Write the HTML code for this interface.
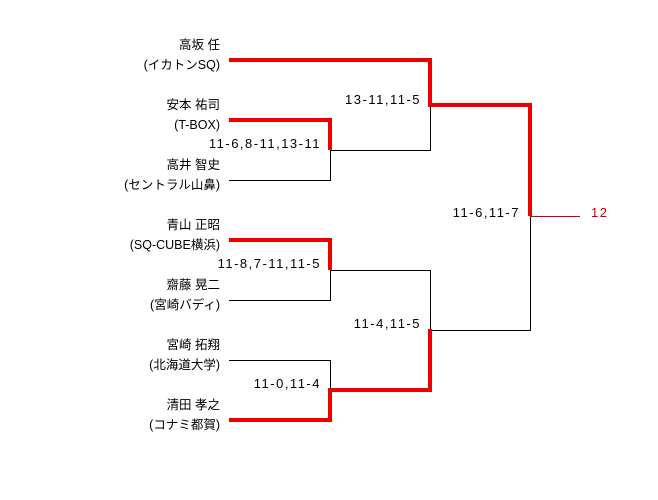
<!DOCTYPE html>
<html><head><meta charset="utf-8"><style>
body{margin:0;background:#fff}
svg{display:block}
text{font-family:"Liberation Sans","Noto Sans CJK JP",sans-serif;font-size:12.5px;fill:#000}
.s{font-size:13px;letter-spacing:1.5px}
</style></head><body>
<svg width="658" height="500" xmlns="http://www.w3.org/2000/svg">
<g stroke="#000" stroke-width="1" fill="none">
<polyline points="229,180.5 330.5,180.5 330.5,150"/>
<polyline points="330,150.5 430.5,150.5 430.5,105"/>
<polyline points="229,300.5 330.5,300.5 330.5,270"/>
<polyline points="330,270.5 430.5,270.5 430.5,330"/>
<polyline points="229,360.5 330.5,360.5 330.5,390"/>
<polyline points="430,330.5 530.5,330.5 530.5,216"/>
</g>
<g stroke="#ee0000" stroke-width="4" fill="none">
<polyline points="229,60 430,60 430,105 530,105 530,216"/>
<polyline points="229,120 330,120 330,150"/>
<polyline points="229,240 330,240 330,270"/>
<polyline points="229,420 330,420 330,390 430,390 430,329"/>
</g>
<line x1="530" y1="216.5" x2="580" y2="216.5" stroke="#cc0000" stroke-width="1"/>
<text x="591" y="217" class="s" style="fill:#cc0000">12</text>
<g text-anchor="end">
<text x="220" y="49">高坂 任</text>
<text x="220" y="69">(イカトンSQ)</text>
<text x="220" y="109">安本 祐司</text>
<text x="220" y="129">(T-BOX)</text>
<text x="220" y="169">高井 智史</text>
<text x="220" y="189">(セントラル山鼻)</text>
<text x="220" y="229">青山 正昭</text>
<text x="220" y="249">(SQ-CUBE横浜)</text>
<text x="220" y="289">齋藤 晃二</text>
<text x="220" y="309">(宮崎バディ)</text>
<text x="220" y="349">宮崎 拓翔</text>
<text x="220" y="369">(北海道大学)</text>
<text x="220" y="409">清田 孝之</text>
<text x="220" y="429">(コナミ都賀)</text>
<text class="s" x="421" y="104">13-11,11-5</text>
<text class="s" x="321" y="148">11-6,8-11,13-11</text>
<text class="s" x="520" y="217">11-6,11-7</text>
<text class="s" x="321" y="268">11-8,7-11,11-5</text>
<text class="s" x="421" y="328">11-4,11-5</text>
<text class="s" x="321" y="388">11-0,11-4</text>
</g>
</svg>
</body></html>
